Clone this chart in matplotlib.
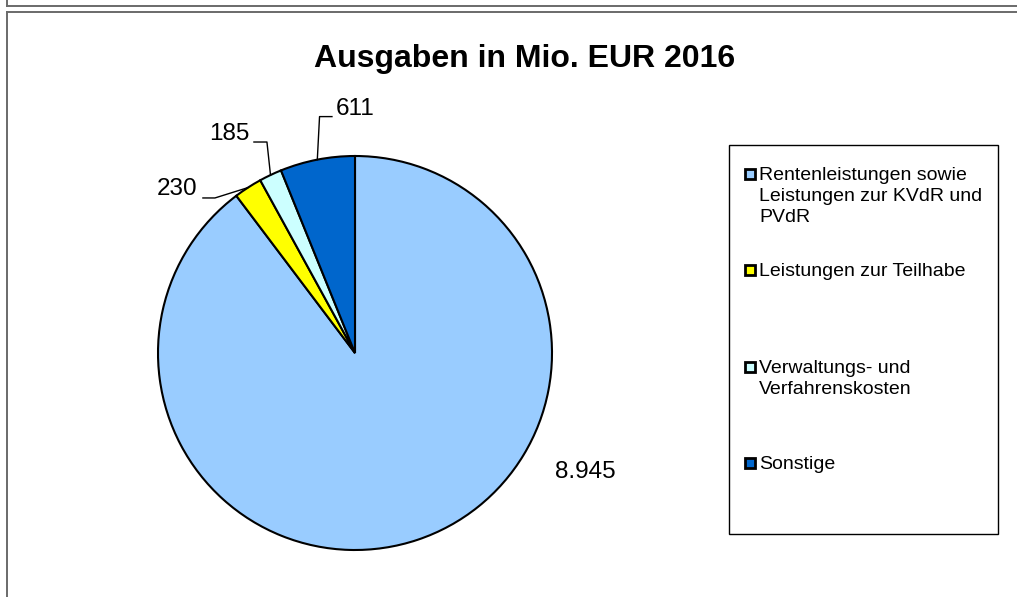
import matplotlib
matplotlib.use("Agg")
import matplotlib.pyplot as plt
import numpy as np
from matplotlib.lines import Line2D
from matplotlib.patches import Rectangle

plt.rcParams['font.family'] = ['Liberation Sans', 'DejaVu Sans']

title = "Ausgaben in Mio. EUR 2016"
categories = ["Rentenleistungen sowie\nLeistungen zur KVdR und\nPVdR",
              "Leistungen zur Teilhabe",
              "Verwaltungs- und\nVerfahrenskosten",
              "Sonstige"]
values = [8945, 230, 185, 611]
value_labels = ["8.945", "230", "185", "611"]
colors = ["#99CCFF", "#FFFF00", "#CCFFFF", "#0066CC"]

W, H = 1017, 597
fig = plt.figure(figsize=(W / 100, H / 100), dpi=100)


def fx(px):
    return px / W


def fy(py):
    return 1 - py / H


# frame lines (chart border of the spreadsheet object)
frame_kw = dict(color="#6a6a6a", lw=1.4, transform=fig.transFigure)
fig.add_artist(Line2D([fx(7), fx(7)], [fy(0), fy(6)], **frame_kw))
fig.add_artist(Line2D([fx(7), fx(W)], [fy(6), fy(6)], **frame_kw))
fig.add_artist(Line2D([fx(7), fx(W)], [fy(11.5), fy(11.5)], **frame_kw))
fig.add_artist(Line2D([fx(7), fx(7)], [fy(11.5), fy(H)], **frame_kw))

# pie axes: centre (355, 353) px, radius 197 px
R = 197
lim = 1.25
cx, cy = 355, 353
side = 2 * lim * R
ax = fig.add_axes([fx(cx - side / 2), fy(cy + side / 2), side / W, side / H])
ax.set_xlim(-lim, lim)
ax.set_ylim(-lim, lim)
ax.set_aspect("equal")
ax.axis("off")

wedges, _ = ax.pie(values, colors=colors, startangle=90, counterclock=False,
                   radius=1.0, wedgeprops=dict(edgecolor="black", linewidth=1.5))

# label placement: (knee, end of leader, text anchor, ha) in radius units
label_pos = [None,
             ((-0.711, 0.787), (-0.772, 0.787), (-0.80, 0.832), "right"),
             ((-0.447, 1.071), (-0.513, 1.071), (-0.535, 1.112), "right"),
             ((-0.18, 1.20), (-0.117, 1.20), (-0.10, 1.24), "left")]

for w, lab, pos in zip(wedges, value_labels, label_pos):
    mid = np.deg2rad((w.theta1 + w.theta2) / 2)
    ex, ey = np.cos(mid), np.sin(mid)
    if pos is None:
        ax.text(1.168, -0.604, lab, ha="center", va="center", fontsize=17.5)
        continue
    knee, end, txt, ha = pos
    ax.plot([ex, knee[0], end[0]], [ey, knee[1], end[1]], color="black", lw=1.0,
            clip_on=False)
    ax.text(txt[0], txt[1], lab, ha=ha, va="center", fontsize=17.5)

fig.text(fx(525), fy(67), title, ha="center", va="baseline", fontsize=23,
         fontweight="bold")

# legend box
fig.add_artist(Rectangle((fx(729), fy(534)), fx(998 - 729), (534 - 145) / H,
                         transform=fig.transFigure, facecolor="white",
                         edgecolor="black", lw=1.0))
first_line_y = [174, 270, 367, 463]
line_step = 21
for lab, col, yc in zip(categories, colors, first_line_y):
    fig.add_artist(Rectangle((fx(745), fy(yc + 5)), 10 / W, 10 / H,
                             transform=fig.transFigure, facecolor=col,
                             edgecolor="black", lw=2.0))
    for k, line in enumerate(lab.split("\n")):
        fig.text(fx(759), fy(yc + 6 + k * line_step), line, ha="left",
                 va="baseline", fontsize=14)

fig.savefig("out.png", dpi=100)
